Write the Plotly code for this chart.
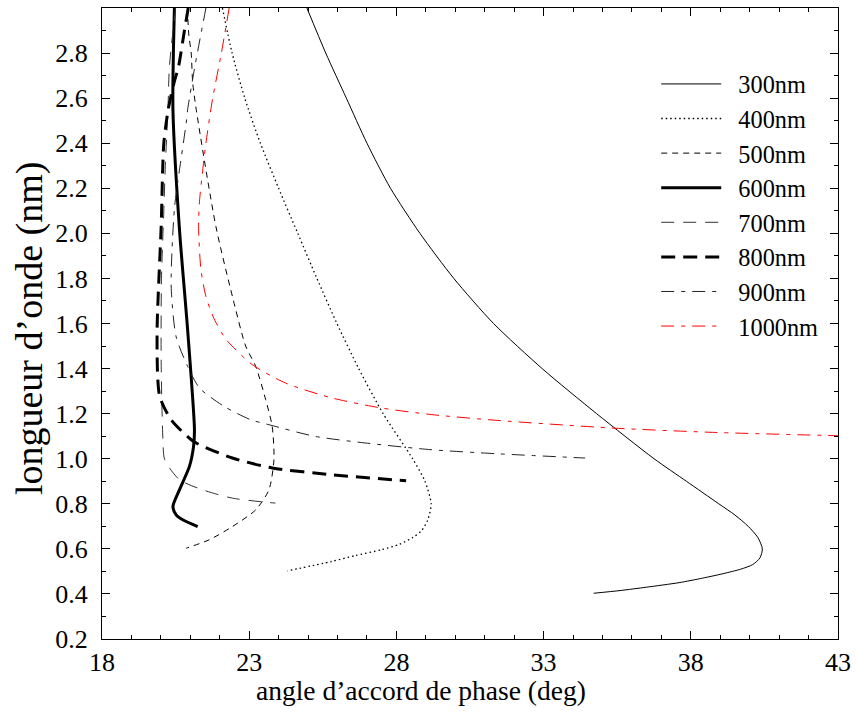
import plotly.graph_objects as go

# ---- data (phase-matching angle in deg  vs  wavelength axis value) ----
x300 = [24.96, 25.6, 26.3, 27.0, 27.8, 28.8, 29.95, 31.3, 32.95, 34.8, 36.75, 37.85, 38.95, 39.5, 39.95, 40.28, 40.43, 40.35, 40.1, 39.7, 39.1, 38.4, 37.6, 36.5, 35.6, 34.7]
y300 = [3.0, 2.8, 2.6, 2.4, 2.2, 2.0, 1.8, 1.6, 1.4, 1.2, 1.0, 0.9, 0.8, 0.75, 0.7, 0.65, 0.6, 0.56, 0.53, 0.51, 0.49, 0.47, 0.45, 0.43, 0.415, 0.403]

x400 = [22.09, 22.42, 22.85, 23.38, 24.0, 24.65, 25.3, 25.98, 26.72, 27.55, 28.55, 28.97, 29.18, 29.07, 28.85, 28.55, 28.1, 27.49, 26.6, 25.8, 24.29]
y400 = [3.0, 2.8, 2.6, 2.4, 2.2, 2.0, 1.8, 1.6, 1.4, 1.2, 1.0, 0.9, 0.8, 0.73, 0.68, 0.65, 0.62, 0.596, 0.57, 0.544, 0.502]

x500 = [20.9, 20.95, 21.03, 21.08, 21.2, 21.87, 22.43, 22.88, 23.22, 23.56, 23.78, 23.84, 23.67, 23.22, 22.43, 21.64, 20.86]
y500 = [3.0, 2.88, 2.80, 2.67, 2.55, 2.03, 1.72, 1.5, 1.41, 1.262, 1.144, 0.996, 0.862, 0.773, 0.699, 0.64, 0.603]

x600 = [20.46, 20.41, 20.63, 20.91, 21.14, 21.11, 20.97, 20.63, 20.41, 20.52, 20.74, 21.25]
y600 = [3.0, 2.55, 2.02, 1.57, 1.13, 1.055, 0.966, 0.862, 0.788, 0.751, 0.729, 0.699]

x700 = [20.5, 20.29, 20.24, 20.15, 20.1, 20.02, 20.01, 20.07, 20.13, 20.63, 21.42, 22.43, 23.89]
y700 = [3.0, 2.74, 2.55, 2.3, 2.1, 1.8, 1.43, 1.084, 0.996, 0.907, 0.862, 0.825, 0.803]

x800 = [20.93, 20.8, 20.6, 20.45, 20.25, 20.1, 20.01, 19.87, 19.96, 20.35, 21.03, 21.31, 22.43, 23.78, 25.8, 28.33]
y800 = [3.0, 2.9, 2.74, 2.67, 2.55, 2.4, 2.03, 1.55, 1.277, 1.173, 1.084, 1.062, 1.003, 0.959, 0.929, 0.902]

x900 = [21.53, 21.14, 20.91, 20.86, 20.63, 20.46, 20.35, 20.52, 20.91, 21.31, 22.15, 23.05, 23.67, 25.24, 26.93, 29.18, 31.43, 34.41]
y900 = [3.0, 2.73, 2.55, 2.49, 2.28, 2.11, 1.766, 1.54, 1.41, 1.314, 1.232, 1.173, 1.151, 1.099, 1.07, 1.04, 1.022, 1.003]

x1000 = [22.32, 22.04, 21.76, 21.53, 21.42, 21.31, 21.28, 21.36, 21.53, 21.81, 22.21, 23.1, 24.23, 25.8, 27.49, 29.18, 31.43, 35.36, 38.74, 43.0]
y1000 = [3.0, 2.79, 2.6, 2.40, 2.28, 2.14, 2.03, 1.84, 1.72, 1.62, 1.53, 1.418, 1.336, 1.27, 1.225, 1.196, 1.17, 1.136, 1.117, 1.102]

labels = ["300nm", "400nm", "500nm", "600nm", "700nm", "800nm", "900nm", "1000nm"]
xs = [x300, x400, x500, x600, x700, x800, x900, x1000]
ys = [y300, y400, y500, y600, y700, y800, y900, y1000]

x_ticks = [18, 23, 28, 33, 38, 43]
y_ticks = [0.2, 0.4, 0.6, 0.8, 1.0, 1.2, 1.4, 1.6, 1.8, 2.0, 2.2, 2.4, 2.6, 2.8]

styles = [
    dict(color="black", width=1, dash="solid"),
    dict(color="black", width=1.3, dash="1.5px,3px"),
    dict(color="black", width=1, dash="6px,5px"),
    dict(color="black", width=3, dash="solid"),
    dict(color="#333333", width=1, dash="13px,9px"),
    dict(color="black", width=3, dash="14px,8px"),
    dict(color="#222222", width=1, dash="13px,7px,4px,7px"),
    dict(color="red", width=1, dash="13px,7px,4px,7px"),
]

FONT = "Liberation Serif, Times New Roman, serif"

fig = go.Figure()
for lab, xv, yv, st in zip(labels, xs, ys, styles):
    fig.add_trace(go.Scatter(x=xv, y=yv, mode="lines", name="\u2002" + lab, legendgroup=lab,
                             line=dict(shape="spline", smoothing=0.7, **st)))

axis_common = dict(showline=True, linecolor="black", linewidth=1, mirror="allticks",
                   ticks="inside", ticklen=8, tickcolor="black", showgrid=False,
                   zeroline=False)

fig.update_layout(
    width=858, height=717,
    margin=dict(l=102, r=15, t=7, b=78),
    paper_bgcolor="white", plot_bgcolor="white",
    font=dict(family=FONT, color="black", size=24),
    showlegend=True,
    legend=dict(x=0.753, y=0.915, xanchor="left", yanchor="top",
                bgcolor="rgba(0,0,0,0)", borderwidth=0,
                font=dict(family=FONT, size=24.3, color="black"), itemwidth=60,
                traceorder="grouped", tracegroupgap=0),
    xaxis=dict(range=[18, 43], tickvals=x_ticks, ticktext=[str(v) for v in x_ticks],
               minor=dict(dtick=1, ticks="inside", ticklen=4, tickcolor="black"),
               tickfont=dict(family=FONT, size=26, color="black"), **axis_common),
    yaxis=dict(range=[0.2, 3.0], tickvals=y_ticks, ticktext=[f"{v:.1f}" for v in y_ticks],
               minor=dict(dtick=0.1, tick0=0.2, ticks="inside", ticklen=4, tickcolor="black"),
               tickfont=dict(family=FONT, size=26, color="black"), ticklabelstandoff=8, **axis_common),
    annotations=[
        dict(text="angle d’accord de phase (deg)", xref="paper", yref="paper",
             x=0.433, y=-0.081, xanchor="center", yanchor="middle", showarrow=False,
             font=dict(family=FONT, size=27.5, color="black")),
        dict(text="longueur d’onde (nm)", xref="paper", yref="paper", textangle=-90,
             x=-0.0985, y=0.492, xanchor="center", yanchor="middle", showarrow=False,
             font=dict(family=FONT, size=38, color="black")),
    ],
)

fig.write_html("out.html")
